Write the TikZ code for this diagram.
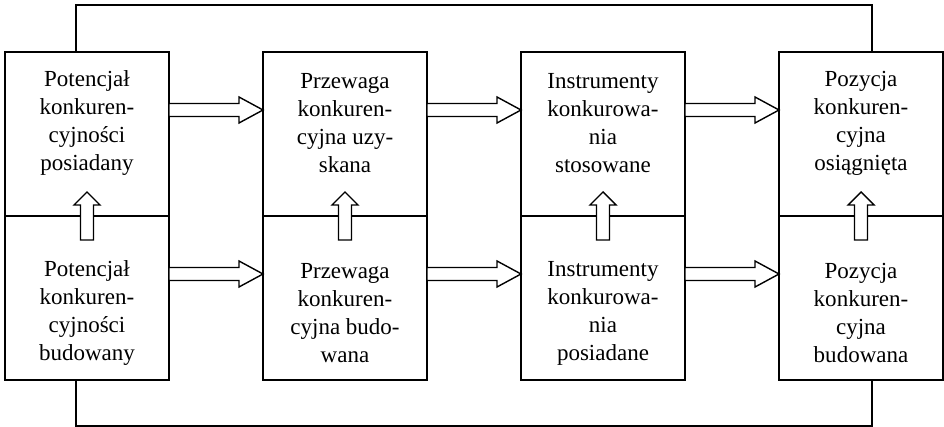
\documentclass[tikz,border=0pt]{standalone}
\usepackage{fontspec}
\setmainfont{Liberation Serif}
\usetikzlibrary{calc}
\tikzset{
  box/.style={draw, line width=1.5pt, minimum width=164pt, minimum height=164pt, inner sep=0pt, outer sep=0pt},
  lbl/.style={align=center, inner sep=0pt, font=\fontsize{23}{28}\selectfont},
  harr/.style={draw, fill=white, line width=1.4pt, line join=miter,
    to path={let \p1=(\tikztostart), \p2=(\tikztotarget) in
      (\x1,\y1+6.5pt) -- (\x2-24pt,\y1+6.5pt) -- (\x2-24pt,\y1+13pt) -- (\x2,\y1)
      -- (\x2-24pt,\y1-13pt) -- (\x2-24pt,\y1-6.5pt) -- (\x1,\y1-6.5pt) -- cycle}},
  varr/.style={draw, fill=white, line width=1.4pt, line join=miter,
    to path={let \p1=(\tikztostart), \p2=(\tikztotarget) in
      (\x1-6.5pt,\y1) -- (\x1-6.5pt,\y2-13pt) -- (\x1-13pt,\y2-13pt) -- (\x1,\y2)
      -- (\x1+13pt,\y2-13pt) -- (\x1+6.5pt,\y2-13pt) -- (\x1+6.5pt,\y1) -- cycle}},
  loop/.style={draw, line width=1.5pt}
}
\begin{document}
\begin{tikzpicture}[x=1pt, y=-1pt]
\useasboundingbox (0,0) rectangle (944,427);
% boxes
\node[box] (t1) at (87,134) {};
\node[box] (b1) at (87,298) {};
\node[box] (t2) at (345,134) {};
\node[box] (b2) at (345,298) {};
\node[box] (t3) at (603,134) {};
\node[box] (b3) at (603,298) {};
\node[box] (t4) at (861,134) {};
\node[box] (b4) at (861,298) {};
% texts
\node[lbl] (lt1) at (87,123) {Potencjał\\konkuren-\\cyjności\\posiadany};
\node[lbl] (lb1) at (87,313) {Potencjał\\konkuren-\\cyjności\\budowany};
\node[lbl] (lt2) at (345,123) {Przewaga\\konkuren-\\cyjna uzy-\\skana};
\node[lbl] (lb2) at (345,313) {Przewaga\\konkuren-\\cyjna budo-\\wana};
\node[lbl] (lt3) at (603,123) {Instrumenty\\konkurowa-\\nia\\stosowane};
\node[lbl] (lb3) at (603,313) {Instrumenty\\konkurowa-\\nia\\posiadane};
\node[lbl] (lt4) at (861,123) {Pozycja\\konkuren-\\cyjna\\osiągnięta};
\node[lbl] (lb4) at (861,313) {Pozycja\\konkuren-\\cyjna\\budowana};
% horizontal hollow arrows
\path ($(t1.east)+(0,-24)$) edge[harr] ($(t2.west)+(0,-24)$);
\path ($(t2.east)+(0,-24)$) edge[harr] ($(t3.west)+(0,-24)$);
\path ($(t3.east)+(0,-24)$) edge[harr] ($(t4.west)+(0,-24)$);
\path ($(b1.east)+(0,-24)$) edge[harr] ($(b2.west)+(0,-24)$);
\path ($(b2.east)+(0,-24)$) edge[harr] ($(b3.west)+(0,-24)$);
\path ($(b3.east)+(0,-24)$) edge[harr] ($(b4.west)+(0,-24)$);
% vertical hollow arrows
\path ($(b1.north)+(0,24)$) edge[varr] ($(b1.north)+(0,-24)$);
\path ($(b2.north)+(0,24)$) edge[varr] ($(b2.north)+(0,-24)$);
\path ($(b3.north)+(0,24)$) edge[varr] ($(b3.north)+(0,-24)$);
\path ($(b4.north)+(0,24)$) edge[varr] ($(b4.north)+(0,-24)$);
% loop lines
\draw[loop] ($(t1.north)+(-11,0)$) -- ++(0,-47) -| ($(t4.north)+(11,0)$);
\draw[loop] ($(b1.south)+(-11,0)$) -- ++(0,46) -| ($(b4.south)+(11,0)$);
\end{tikzpicture}
\end{document}
